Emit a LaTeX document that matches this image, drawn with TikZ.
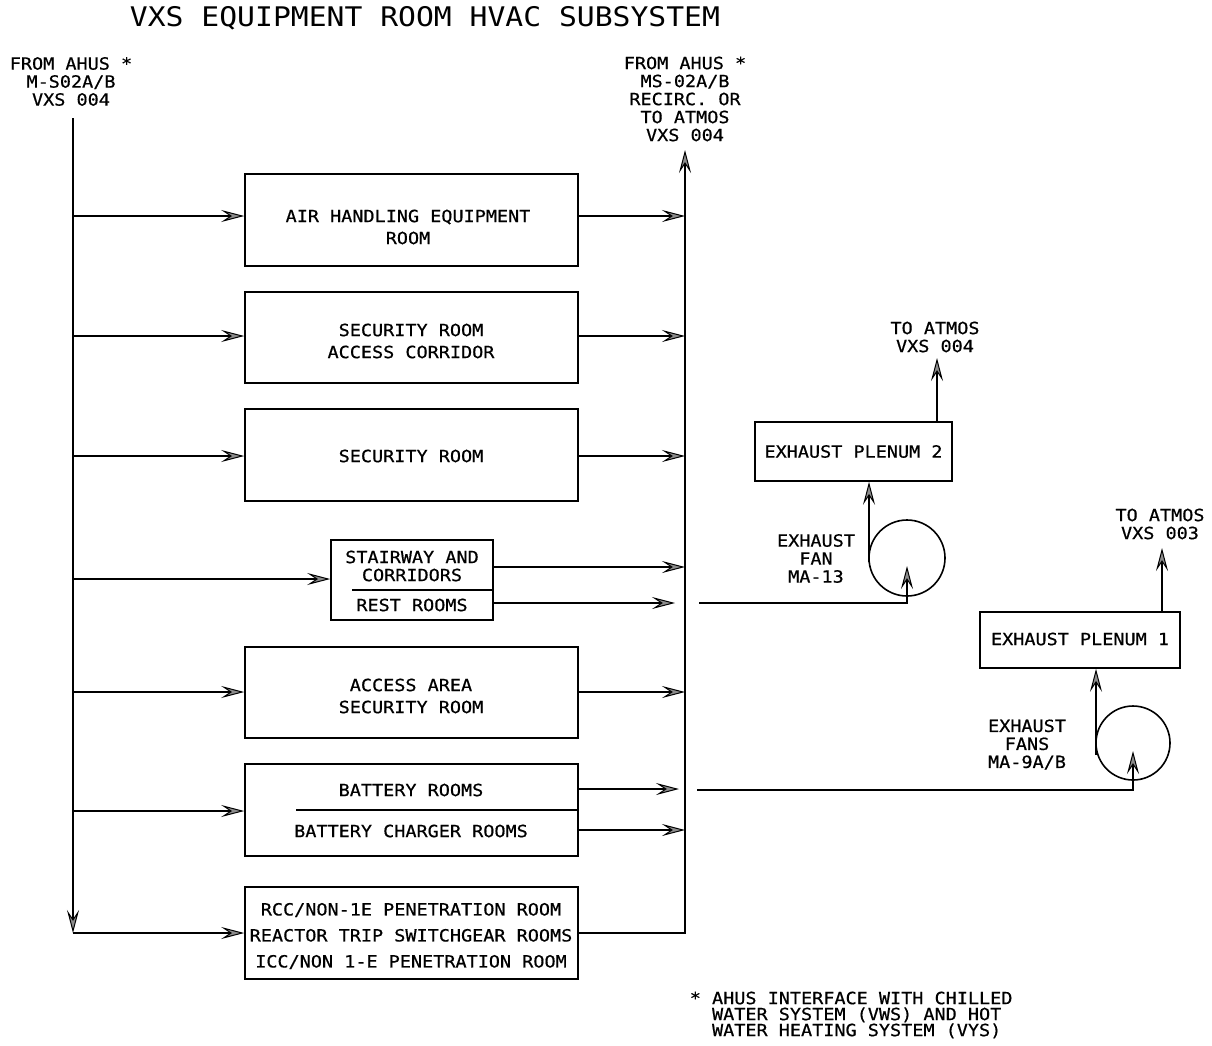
\documentclass[tikz,border=0pt]{standalone}
\usepackage{fontspec}
\newfontfamily\cad[FakeStretch=1.1,FakeBold=0.6]{DejaVu Sans Mono}
\newfontfamily\cadt[FakeStretch=1.1]{DejaVu Sans Mono}
\usetikzlibrary{arrows.meta}
\begin{document}
\begin{tikzpicture}[x=1pt,y=-1pt,line width=1.6pt,
  arr/.style={-{Stealth[length=23pt,width=12pt,inset=9pt,fill=black!45,line width=1pt]}},
  box/.style={draw,inner sep=0,minimum width=#1},
  lbl/.style={font=\cad\fontsize{16.8}{18}\selectfont,inner sep=0,align=center},
  btxt/.style={font=\cad\fontsize{16.8}{22}\selectfont,inner sep=0,align=center},
  rtxt/.style={font=\cad\fontsize{16.8}{26}\selectfont,inner sep=0,align=center},
  note/.style={font=\cad\fontsize{16.8}{16}\selectfont,inner sep=0,align=left,anchor=west},
  ttl/.style={font=\cadt\fontsize{27}{30}\selectfont,inner sep=0}]
\useasboundingbox (0,0) rectangle (1212,1045);

% title and labels
\node[ttl] (title) at (425,18) {VXS EQUIPMENT ROOM HVAC SUBSYSTEM};
\node[lbl] (srcl) at (71,81.5) {FROM AHUS *\\M-S02A/B\\VXS 004};
\node[lbl] (srcr) at (685,99) {FROM AHUS *\\MS-02A/B\\RECIRC. OR\\TO ATMOS\\VXS 004};
\node[lbl] (atm4) at (935,337) {TO ATMOS\\VXS 004};
\node[lbl] (atm3) at (1160,524) {TO ATMOS\\VXS 003};
\node[lbl] (fanl1) at (816,558.5) {EXHAUST\\FAN\\MA-13};
\node[lbl] (fanl2) at (1027,744.5) {EXHAUST\\FANS\\MA-9A/B};
\node[note] (fn) at (689,1015) {* AHUS INTERFACE WITH CHILLED\\\hphantom{*\ }WATER SYSTEM (VWS) AND HOT\\\hphantom{*\ }WATER HEATING SYSTEM (VYS)};

% room boxes
\node[box=333,minimum height=92] (ahe) at (411.5,220) {};
\node[btxt] (ahet) at (408,227) {AIR HANDLING EQUIPMENT\\ROOM};
\node[box=333,minimum height=91] (sec) at (411.5,337.5) {};
\node[btxt] (sect) at (411,341) {SECURITY ROOM\\ACCESS CORRIDOR};
\node[box=333,minimum height=92] (sr) at (411.5,455) {};
\node[btxt] (srt) at (411,456) {SECURITY ROOM};
\node[box=162,minimum height=80] (st) at (412,580) {};
\node[lbl] (stt) at (412,566) {STAIRWAY AND\\CORRIDORS};
\node[lbl] (rrt) at (412,605) {REST ROOMS};
\draw (352,590) -- (st.east |- 0,590);
\node[box=333,minimum height=91] (acc) at (411.5,692.5) {};
\node[btxt] (acct) at (411,696) {ACCESS AREA\\SECURITY ROOM};
\node[box=333,minimum height=92] (bat) at (411.5,810) {};
\node[lbl] (batt) at (411,790) {BATTERY ROOMS};
\node[lbl] (bctt) at (411,831) {BATTERY CHARGER ROOMS};
\draw (296,810) -- (bat.east);
\node[box=333,minimum height=92] (rcc) at (411.5,933) {};
\node[rtxt] (rcct) at (411,936) {RCC/NON-1E PENETRATION ROOM\\REACTOR TRIP SWITCHGEAR ROOMS\\ICC/NON 1-E PENETRATION ROOM};

% exhaust
\node[box=197,minimum height=59] (pl2) at (853.5,451.5) {};
\node[lbl] (pl2t) at (853.5,451.5) {EXHAUST PLENUM 2};
\node[box=200,minimum height=56] (pl1) at (1080,640) {};
\node[lbl] (pl1t) at (1080,639) {EXHAUST PLENUM 1};
\node[draw,circle,minimum size=76,inner sep=0,outer sep=0] (fan1) at (907,558) {};
\node[draw,circle,minimum size=74,inner sep=0,outer sep=0] (fan2) at (1133,743) {};

% supply trunk
\coordinate (ltop) at (73,118);
\coordinate (lbot) at (73,933);
\coordinate (j1) at (73,216);
\coordinate (j2) at (73,336);
\coordinate (j3) at (73,456);
\coordinate (j4) at (73,579);
\coordinate (j5) at (73,692);
\coordinate (j6) at (73,811);
\draw[arr] (ltop) -- (lbot);
\draw[arr] (lbot) -- (rcc.west);
\foreach \j/\b in {j1/ahe,j2/sec,j3/sr,j4/st,j5/acc,j6/bat}
  \draw[arr] (\j) -- (\j -| \b.west);

% return trunk
\coordinate (rbot) at (685,933);
\coordinate (rtop) at (685,150);
\draw[arr] (rcc.east) -- (rbot) -- (rtop);
\foreach \j/\b in {j1/ahe,j2/sec,j3/sr,j5/acc}
  \draw[arr] (\j -| \b.east) -- (\j -| rbot);
\coordinate (s1) at (493,567);
\coordinate (s2) at (493,603);
\draw[arr] (s1) -- (s1 -| rbot);
\draw[arr] (s2) -- (675,603);
\coordinate (b1) at (578,789);
\coordinate (b2) at (578,830);
\draw[arr] (b1) -- (679,789);
\draw[arr] (b2) -- (b2 -| rbot);

% exhaust paths
\coordinate (e1) at (699,603);
\draw[arr] (e1) -- (e1 -| fan1.center) -- ([yshift=-8pt]fan1.center);
\draw[arr] ([yshift=-4pt]fan1.west) -- (fan1.west |- pl2.south);
\coordinate (o2) at (937,422);
\draw[arr] (o2) -- (937,358);
\coordinate (e2) at (697,790);
\draw[arr] (e2) -- (e2 -| fan2.center) -- ([yshift=-8pt]fan2.center);
\draw[arr] ([yshift=-12pt]fan2.west) -- (fan2.west |- pl1.south);
\coordinate (o1) at (1162,612);
\draw[arr] (o1) -- (1162,548);
\end{tikzpicture}
\end{document}
